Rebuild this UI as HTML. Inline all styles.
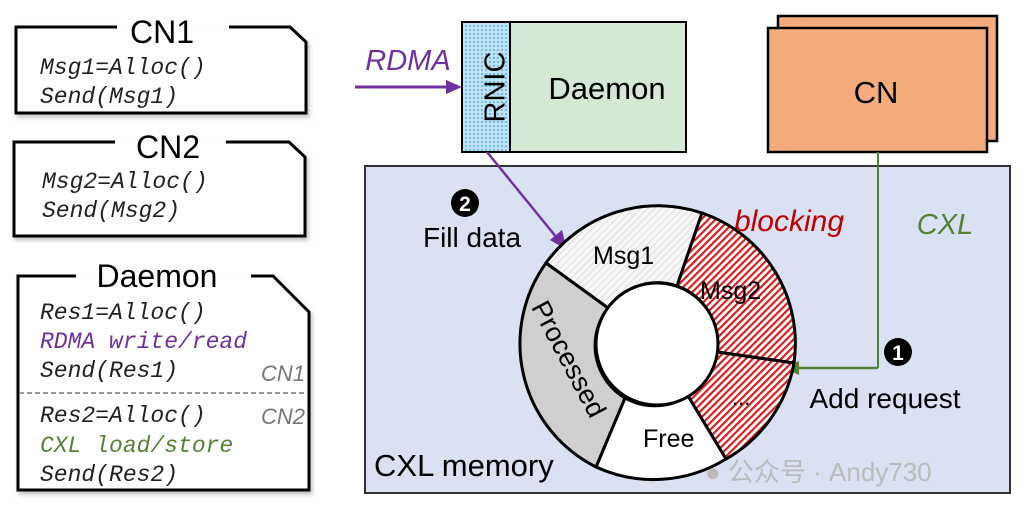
<!DOCTYPE html><html><head><style>body{margin:0;background:#fff}svg{display:block}</style></head><body>
<svg width="1024" height="514" viewBox="0 0 1024 514" xmlns="http://www.w3.org/2000/svg">
<defs>
<pattern id="red" width="5" height="5" patternUnits="userSpaceOnUse" patternTransform="rotate(45)"><rect width="5" height="5" fill="#fff"/><rect width="2.2" height="5" fill="#d42020"/></pattern>
<pattern id="lg" width="5" height="5" patternUnits="userSpaceOnUse" patternTransform="rotate(45)"><rect width="5" height="5" fill="#f6f6f6"/><rect width="1" height="5" fill="#ddd"/></pattern>
<pattern id="dots" width="4" height="4" patternUnits="userSpaceOnUse"><rect width="4" height="4" fill="#bfe3f3"/><circle cx="2" cy="2" r="0.9" fill="#3a9fd6"/></pattern>
<filter id="sh"><feDropShadow dx="2" dy="3" stdDeviation="2" flood-color="#999" flood-opacity="0.6"/></filter>
</defs>
<g font-family="Liberation Mono, monospace" font-style="italic" font-size="23" fill="#222">
<path d="M117,27 H16 V113 H306 V42 L290,27 H229" fill="#fff" stroke="#000" stroke-width="3" filter="url(#sh)"/>
<text x="162" y="43" font-family="Liberation Sans, sans-serif" font-style="normal" font-size="32" text-anchor="middle" fill="#000">CN1</text>
<text x="40" y="74">Msg1=Alloc()</text><text x="40" y="103">Send(Msg1)</text>
<path d="M115,142 H14 V236 H305 V157 L289,142 H226" fill="#fff" stroke="#000" stroke-width="3" filter="url(#sh)"/>
<text x="168" y="158" font-family="Liberation Sans, sans-serif" font-style="normal" font-size="32" text-anchor="middle" fill="#000">CN2</text>
<text x="42" y="188">Msg2=Alloc()</text><text x="42" y="217">Send(Msg2)</text>
<path d="M76,276 H18 V490 H309 V312 L273,276 H251" fill="#fff" stroke="#000" stroke-width="3" filter="url(#sh)"/>
<text x="157" y="287" font-family="Liberation Sans, sans-serif" font-style="normal" font-size="32" text-anchor="middle" fill="#000">Daemon</text>
<text x="40" y="319">Res1=Alloc()</text>
<text x="40" y="348" fill="#7030a0">RDMA write/read</text>
<text x="40" y="377">Send(Res1)</text>
<line x1="19" y1="393" x2="308" y2="393" stroke="#777" stroke-width="1.5" stroke-dasharray="5,3"/>
<text x="40" y="422">Res2=Alloc()</text>
<text x="40" y="452" fill="#548235">CXL load/store</text>
<text x="40" y="481">Send(Res2)</text>
<text x="305" y="381" font-family="Liberation Sans, sans-serif" font-size="22" fill="#777" text-anchor="end">CN1</text>
<text x="305" y="424" font-family="Liberation Sans, sans-serif" font-size="22" fill="#777" text-anchor="end">CN2</text>
</g>
<g font-family="Liberation Sans, sans-serif">
<rect x="365" y="166" width="645" height="327" fill="#d9e1f2" stroke="#333" stroke-width="2"/>
<rect x="462" y="22" width="48" height="130" fill="url(#dots)" stroke="#000" stroke-width="2"/>
<rect x="510" y="22" width="176" height="130" fill="#d5e8d4" stroke="#000" stroke-width="2"/>
<text x="497" y="87" font-size="29" text-anchor="middle" transform="rotate(-90 497 87)" dominant-baseline="middle">RNIC</text>
<text x="607" y="99" font-size="31" text-anchor="middle">Daemon</text>
<text x="408" y="70" font-size="29" font-style="italic" fill="#7030a0" text-anchor="middle">RDMA</text>
<line x1="355" y1="87" x2="448" y2="87" stroke="#7030a0" stroke-width="3"/><polygon points="462,87 446,80 446,94" fill="#7030a0"/>
<rect x="778" y="16" width="219" height="125" fill="#f4ac7c" stroke="#000" stroke-width="2.5"/>
<rect x="768" y="28" width="219" height="124" fill="#f4ac7c" stroke="#000" stroke-width="2.5"/>
<text x="876" y="103" font-size="31" text-anchor="middle">CN</text>
<line x1="878" y1="152" x2="878" y2="368" stroke="#548235" stroke-width="2"/>
<line x1="878" y1="368" x2="797" y2="368" stroke="#548235" stroke-width="2.5"/>
<polygon points="783,368 799,361 799,375" fill="#548235"/>
<text x="945" y="234" font-size="29" font-style="italic" fill="#548235" text-anchor="middle">CXL</text>
<text x="789" y="231" font-size="30" font-style="italic" fill="#c00000" text-anchor="middle">blocking</text>
<line x1="487" y1="152" x2="557" y2="238" stroke="#7030a0" stroke-width="2.5"/><polygon points="567,250 550,240 562,230" fill="#7030a0"/>
<circle cx="465" cy="203" r="14" fill="#000"/><text x="465" y="211" font-size="21" font-weight="bold" fill="#fff" text-anchor="middle">2</text>
<text x="472" y="247" font-size="28" text-anchor="middle">Fill data</text>
<circle cx="898" cy="352" r="14" fill="#000"/><text x="898" y="360" font-size="21" font-weight="bold" fill="#fff" text-anchor="middle">1</text>
<text x="885" y="408" font-size="28" text-anchor="middle">Add request</text>
<text x="374" y="476" font-size="31">CXL memory</text>
<g stroke="#000" stroke-width="3">
<path d="M546,263 A138,138 0 0 1 702,213 L677,286 A61,61 0 0 0 608,308 Z" fill="url(#lg)"/>
<path d="M702,213 A138,138 0 0 1 794,363 L717,352 A61,61 0 0 0 677,286 Z" fill="url(#red)"/>
<path d="M794,363 A138,138 0 0 1 726,459 L688,396 A61,61 0 0 0 717,352 Z" fill="url(#red)"/>
<path d="M726,459 A138,138 0 0 1 596,467 L625,398 A61,61 0 0 0 688,396 Z" fill="#fff"/>
<path d="M596,467 A138,138 0 0 1 546,263 L608,308 A61,61 0 0 0 625,398 Z" fill="#d0cece"/>
<circle cx="657" cy="344" r="61" fill="#fff"/>
</g>
<text x="593" y="264" font-size="25">Msg1</text>
<text x="700" y="299" font-size="25">Msg2</text>
<text x="732" y="405" font-size="22">...</text>
<text x="643" y="447" font-size="25">Free</text>
<text x="567" y="360" font-size="27" text-anchor="middle" transform="rotate(62 567 360)" dominant-baseline="middle">Processed</text>
<text x="705" y="481" font-size="26" fill="#bbb">● 公众号 · Andy730</text>
</g>
</svg></body></html>
